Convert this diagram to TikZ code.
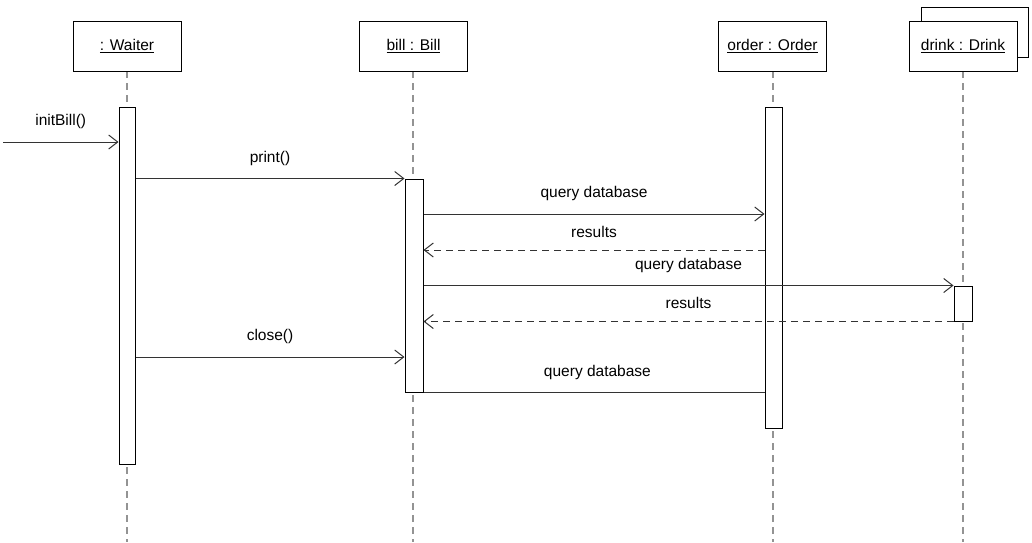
\documentclass[tikz,border=0pt]{standalone}
\usepackage{fontspec}
\setmainfont{Liberation Sans}
\usetikzlibrary{arrows.meta}
\begin{document}
\begin{tikzpicture}[x=1pt,y=-1pt,line width=1pt,
        every node/.style={font=\fontsize{15.5}{18}\selectfont},
        obj/.style={draw,fill=white,minimum width=108pt,minimum height=50pt,inner sep=0pt},
        act/.style={draw,fill=white,minimum width=17pt,inner sep=0pt},
        life/.style={draw=gray!85,dash pattern=on 7pt off 5pt,line width=1.3pt},
        msg/.style={draw=black!80,-{Straight Barb[length=9pt,width=14pt]}},
        ret/.style={msg,dash pattern=on 7pt off 5pt},
        lbl/.style={above=9pt,midway}]
        \useasboundingbox (0,0) rectangle (1032,542);
        %% lifelines
        \foreach \x in {127,413,773,963} \draw[life] (\x,71) -- (\x,542);
        %% objects
        \draw[fill=white] (921,7) rectangle (1028,57);
        \node[obj] (waiter) at (127,46) {\underline{: Waiter}};
        \node[obj] (bill) at (413.5,46) {\underline{bill : Bill}};
        \node[obj] (order) at (772.5,46) {\underline{order : Order}};
        \node[obj] (drink) at (963,46) {\underline{drink : Drink}};
        %% activations
        \node[act,minimum width=16pt,minimum height=357pt] (wa) at (127,285.5) {};
        \node[act,minimum width=18pt,minimum height=213pt] (ba) at (414,285.5) {};
        \node[act,minimum height=321pt] (oa) at (773.5,267.5) {};
        \node[act,minimum width=18pt,minimum height=35pt] (da) at (963,303.5) {};
        %% messages
        \coordinate (start) at (3,142);
        \draw[msg] (start) -- (wa.west |- start) node[lbl] {initBill()};
        \draw[msg] (wa.east |- ba.north) -- (ba.north west) node[lbl] {print()};
        \draw[msg] (ba.east |- 0,214) -- (oa.west |- 0,214) node[lbl] {query database};
        \draw[ret] (oa.west |- 0,250) -- (ba.east |- 0,250) node[lbl] {results};
        \draw[msg] (ba.east |- da.north) -- (da.north west) node[lbl] {query database};
        \draw[ret] (da.south west) -- (ba.east |- da.south) node[lbl] {results};
        \draw[msg] (wa.east |- 0,357) -- (ba.west |- 0,357) node[lbl] {close()};
        \draw[draw=black!80] (ba.south east) -- (oa.west |- ba.south) node[lbl,pos=0.51] {query database};
    \end{tikzpicture}
\end{document}
